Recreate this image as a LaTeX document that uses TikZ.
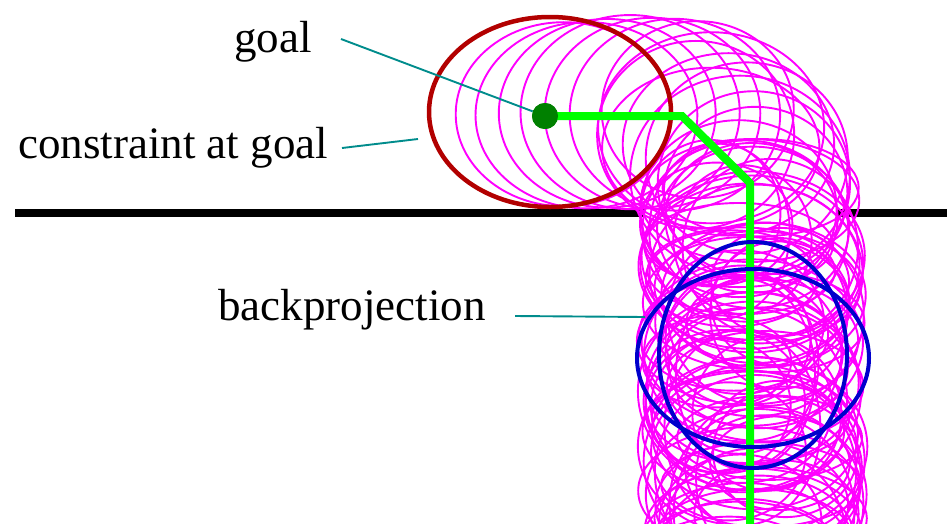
\documentclass[tikz,border=0pt]{standalone}
\usepackage{fontspec}
\setmainfont{Liberation Serif}
\usetikzlibrary{shapes.geometric}
\definecolor{wallc}{rgb}{0,0,0}
\definecolor{mag}{rgb}{1,0,1}
\definecolor{cred}{rgb}{0.7,0,0}
\definecolor{pathg}{rgb}{0,1,0}
\definecolor{dotg}{rgb}{0,0.5,0}
\definecolor{bp}{rgb}{0,0,0.8}
\definecolor{lead}{rgb}{0,0.55,0.55}
\tikzset{
  wall/.style={line width=8pt, wallc},
  cand/.style={line width=1.9pt, mag},
  lbl/.style={font=\fontsize{45}{54}\selectfont, inner sep=0pt},
  leader/.style={line width=1.9pt, lead},
  bpell/.style={draw=bp, line width=4pt, ellipse, inner sep=0pt},
}
\begin{document}
\begin{tikzpicture}[x=1pt,y=-1pt]
\useasboundingbox (0,0) rectangle (947,523);
\begin{scope}
\clip (0,0) rectangle (947,523);
% walls
\draw[wall] (15,213) -- (645,213);
\draw[wall] (836,213) -- (960,213);
% candidate ellipses along the path
\pgfmathsetseed{4242}
\foreach \i in {0,...,5}{
  \pgfmathsetmacro{\cx}{565+22*\i+6*(rnd-0.5)}
  \pgfmathsetmacro{\cy}{114+4*(rnd-0.5)}
  \pgfmathsetmacro{\rx}{105+10*rnd}
  \pgfmathsetmacro{\ry}{92+6*rnd}
  \draw[cand] (\cx,\cy) ellipse [x radius=\rx pt, y radius=\ry pt];
}
\foreach \i in {0,...,7}{
  \pgfmathsetmacro{\t}{\i/7}
  \pgfmathsetmacro{\cx}{690+68*\t+20*(rnd-0.5)}
  \pgfmathsetmacro{\cy}{116+67*\t+20*(rnd-0.5)}
  \pgfmathsetmacro{\rx}{95+20*rnd}
  \pgfmathsetmacro{\ry}{80+20*rnd}
  \draw[cand] (\cx,\cy) ellipse [x radius=\rx pt, y radius=\ry pt];
}
\foreach \i in {0,...,75}{
  \pgfmathsetmacro{\cy}{190+5*\i+8*(rnd-0.5)}
  \pgfmathsetmacro{\rx}{68+47*rnd}
  \pgfmathsetmacro{\cx}{752+(116-\rx)*(2*rnd-1)*0.9}
  \pgfmathsetmacro{\ry}{42+58*rnd}
  \draw[cand] (\cx,\cy) ellipse [x radius=\rx pt, y radius=\ry pt];
}
\end{scope}
% constraint at goal
\node[ellipse, draw=cred, line width=4.5pt, minimum width=242pt, minimum height=190pt, inner sep=0pt] (cgoal) at (550,112) {};
% path
\coordinate (p1) at (682,116);
\coordinate (p2) at (750,183);
\coordinate (p3) at (750,530);
\node[circle, fill=dotg, minimum size=26pt, inner sep=0pt] (goaldot) at (545,116) {};
\draw[pathg, line width=8pt] (goaldot.center) -- (p1) -- (p2) -- (p3);
\fill[dotg] (goaldot.center) circle (13pt);
% backprojection
\node[bpell, minimum width=232pt, minimum height=178pt] (bpwide) at (753,358) {};
\node[bpell, minimum width=188pt, minimum height=226pt] (bptall) at (753,355) {};
% labels
\node[lbl, anchor=base east] (lgoal) at (312,52) {goal};
\node[lbl, anchor=base west] (lcons) at (18,158) {constraint at goal};
\node[lbl, anchor=base west] (lback) at (218,320) {backprojection};
% leaders
\coordinate (g1) at (341,39);
\coordinate (c1) at (342,148);
\coordinate (c2) at (418,139);
\coordinate (b1) at (515,316);
\coordinate (b2) at (645,317);
\draw[leader] (g1) -- (goaldot);
\draw[leader] (c1) -- (c2);
\draw[leader] (b1) -- (b2);
\end{tikzpicture}
\end{document}
